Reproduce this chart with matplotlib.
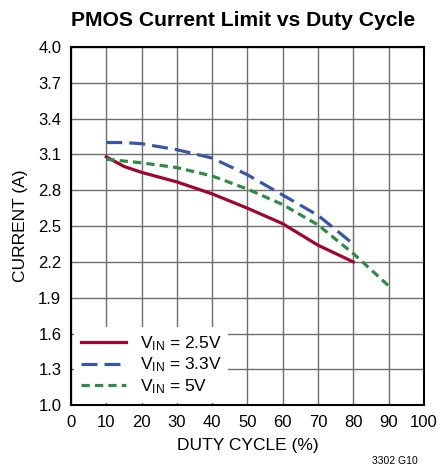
import matplotlib
matplotlib.use("Agg")
import matplotlib.pyplot as plt

plt.rcParams['font.family'] = ['Liberation Sans Narrow', 'Liberation Sans', 'DejaVu Sans']
plt.rcParams['mathtext.default'] = 'regular'

# data
duty_25 = [10, 15, 20, 30, 40, 50, 60, 70, 80]
cur_25 = [3.08, 3.0, 2.95, 2.87, 2.77, 2.65, 2.52, 2.34, 2.2]

duty_33 = [10, 15, 20, 30, 40, 50, 60, 70, 80]
cur_33 = [3.2, 3.2, 3.19, 3.14, 3.07, 2.93, 2.76, 2.59, 2.35]

duty_5 = [10, 20, 30, 40, 50, 60, 70, 80, 90]
cur_5 = [3.06, 3.03, 2.99, 2.92, 2.81, 2.68, 2.51, 2.27, 2.0]

x_ticks = list(range(0, 101, 10))
y_ticks = [1.0, 1.3, 1.6, 1.9, 2.2, 2.5, 2.8, 3.1, 3.4, 3.7, 4.0]

fig = plt.figure(figsize=(4.37, 4.75), dpi=100)
ax = fig.add_axes([0.1625, 0.147, 0.8075, 0.754])

ax.plot(duty_25, cur_25, color='#A0052D', lw=2.3, label='V$_{IN}$ = 2.5V')
ax.plot(duty_33, cur_33, color='#3A57A7', lw=2.3, dashes=(5, 2.2), label='V$_{IN}$ = 3.3V')
ax.plot(duty_5, cur_5, color='#2E8B48', lw=2.3, dashes=(2.6, 1.6), label='V$_{IN}$ = 5V')

ax.set_xlim(0, 100)
ax.set_ylim(1.0, 4.0)
ax.set_xticks(x_ticks)
ax.set_yticks(y_ticks)
ax.set_yticklabels(['%.1f' % v for v in y_ticks])
ax.grid(True, color='#6e6e6e', lw=1.0)
ax.tick_params(length=0, labelsize=12, pad=7)
for s in ax.spines.values():
    s.set_linewidth(1.5)

ax.set_xlabel('DUTY CYCLE (%)', fontsize=12.5, labelpad=6)
ax.set_ylabel('CURRENT (A)', fontsize=12.5, labelpad=7)
fig.text(0.556, 0.956, 'PMOS Current Limit vs Duty Cycle', ha='center', va='center',
         fontsize=15.2, fontweight='bold')
fig.text(0.955, 0.02, '3302 G10', ha='right', va='bottom', fontsize=7.5)

leg = ax.legend(loc='lower left', fontsize=12.5, frameon=True, fancybox=False,
                edgecolor='none', framealpha=1, handlelength=2.6,
                borderaxespad=0.15, labelspacing=0.15, handletextpad=0.8)

fig.savefig('out.png', dpi=100)
